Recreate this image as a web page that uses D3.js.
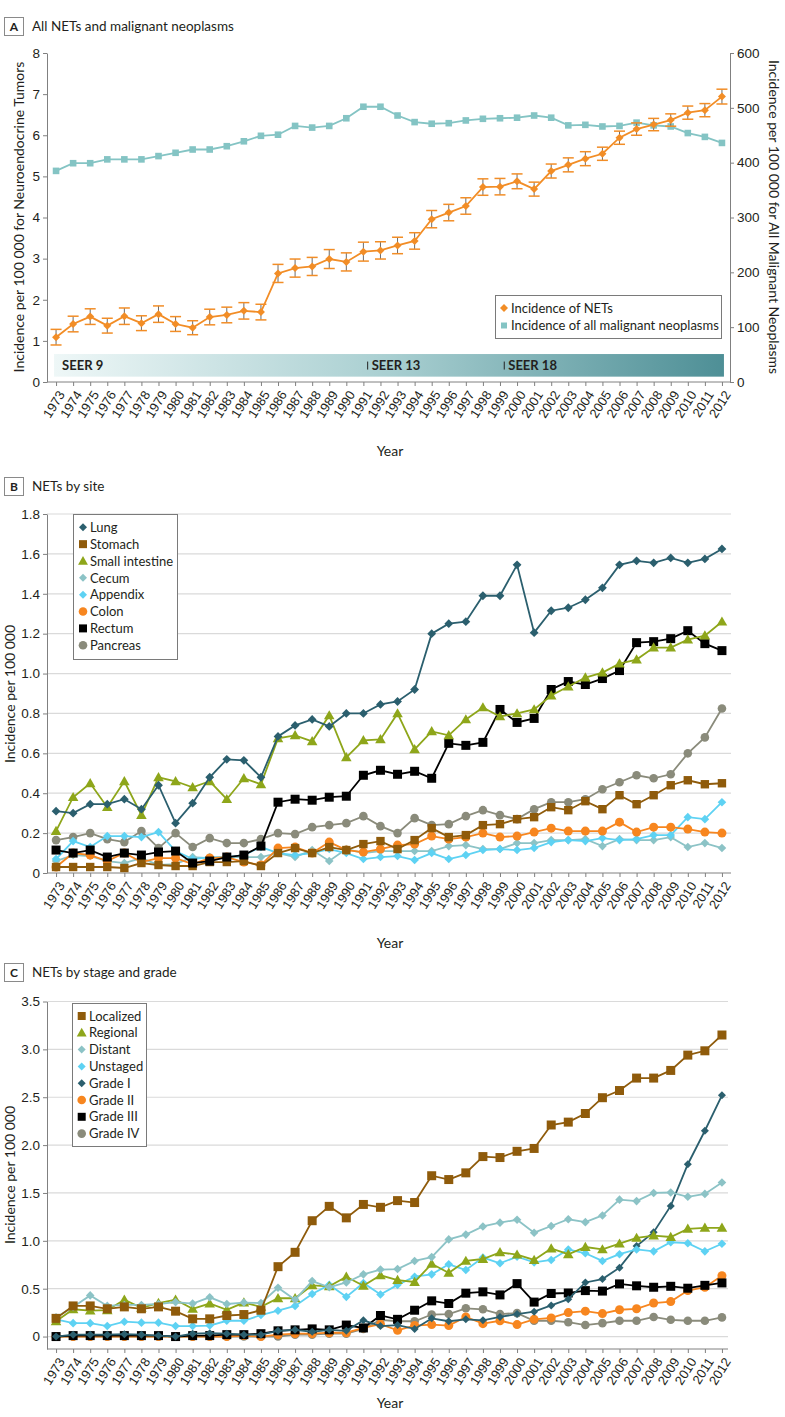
<!DOCTYPE html>
<html><head><meta charset="utf-8">
<script src="https://cdn.jsdelivr.net/npm/d3@7"></script>
<style>
body{margin:0;background:#fff;}
svg{display:block;font-family:Lato,"Noto Sans",sans-serif;}
</style>
</head><body>
<svg id="chart" width="785" height="1417"></svg>
<script>
// ---------------- DATA ----------------
const years = [1973,1974,1975,1976,1977,1978,1979,1980,1981,1982,1983,1984,1985,1986,1987,1988,1989,1990,1991,1992,
               1993,1994,1995,1996,1997,1998,1999,2000,2001,2002,2003,2004,2005,2006,2007,2008,2009,2010,2011,2012];

// Panel A
const netsIncidence = [1.09,1.41,1.59,1.37,1.60,1.43,1.65,1.41,1.32,1.58,1.63,1.73,1.70,2.64,2.77,2.81,2.99,2.92,3.17,3.20,
                       3.32,3.43,3.96,4.12,4.28,4.74,4.75,4.88,4.69,5.13,5.28,5.43,5.55,5.94,6.15,6.26,6.37,6.55,6.61,6.94];
const netsCIHalf = [0.19,0.19,0.19,0.18,0.20,0.18,0.20,0.18,0.17,0.19,0.19,0.20,0.19,0.22,0.22,0.22,0.23,0.22,0.23,0.21,
                    0.20,0.20,0.21,0.20,0.20,0.20,0.20,0.18,0.17,0.17,0.17,0.17,0.16,0.16,0.15,0.15,0.15,0.16,0.16,0.18];
const malignantIncidence = [385,399,399,406,406,406,412,418,424,424,430,439,449,451,467,464,467,481,502,502,
                            486,474,471,472,477,480,481,482,486,482,468,469,466,467,473,468,466,454,447,436];
const seerPeriods = ["SEER 9","SEER 13","SEER 18"];
const seerStartYears = [1973,1992,2000];
const leftTicksA = [0,1,2,3,4,5,6,7,8];
const rightTicksA = [0,100,200,300,400,500,600];

// Panel B
const siteNames = ["Lung","Stomach","Small intestine","Cecum","Appendix","Colon","Rectum","Pancreas"];
const lung = [0.31,0.30,0.345,0.345,0.37,0.32,0.44,0.25,0.35,0.48,0.57,0.565,0.48,0.685,0.74,0.77,0.735,0.80,0.80,0.845,
              0.86,0.92,1.20,1.25,1.26,1.39,1.39,1.545,1.205,1.315,1.33,1.37,1.43,1.545,1.565,1.555,1.58,1.555,1.575,1.625];
const stomach = [0.03,0.03,0.03,0.03,0.025,0.05,0.04,0.035,0.035,0.055,0.055,0.06,0.035,0.10,0.125,0.10,0.13,0.115,0.145,0.16,
                 0.12,0.165,0.225,0.18,0.19,0.24,0.245,0.27,0.28,0.33,0.315,0.36,0.32,0.39,0.345,0.39,0.44,0.465,0.445,0.45];
const smallIntestine = [0.21,0.38,0.45,0.33,0.46,0.29,0.48,0.46,0.43,0.46,0.37,0.475,0.445,0.675,0.69,0.66,0.79,0.58,0.665,0.67,
                        0.80,0.62,0.71,0.69,0.77,0.83,0.785,0.80,0.82,0.89,0.935,0.98,1.005,1.05,1.07,1.13,1.13,1.17,1.19,1.26];
const cecum = [0.06,0.09,0.085,0.06,0.05,0.075,0.04,0.045,0.08,0.075,0.08,0.08,0.08,0.10,0.08,0.115,0.06,0.12,0.10,0.11,
               0.11,0.11,0.11,0.135,0.14,0.12,0.12,0.15,0.15,0.165,0.165,0.17,0.135,0.17,0.165,0.165,0.18,0.13,0.15,0.125];
const appendix = [0.07,0.16,0.13,0.185,0.185,0.18,0.205,0.11,0.07,0.08,0.08,0.09,0.13,0.10,0.09,0.10,0.12,0.10,0.07,0.08,
                  0.085,0.065,0.10,0.07,0.09,0.115,0.12,0.115,0.125,0.155,0.165,0.16,0.175,0.165,0.17,0.19,0.19,0.28,0.27,0.355];
const colon = [0.03,0.10,0.09,0.06,0.10,0.055,0.075,0.075,0.045,0.075,0.08,0.055,0.04,0.125,0.13,0.10,0.155,0.115,0.105,0.12,
               0.14,0.145,0.185,0.17,0.18,0.20,0.18,0.185,0.205,0.225,0.21,0.21,0.21,0.255,0.205,0.23,0.23,0.22,0.205,0.20];
const rectum = [0.115,0.10,0.115,0.08,0.10,0.09,0.105,0.11,0.05,0.06,0.08,0.09,0.135,0.355,0.37,0.365,0.38,0.385,0.49,0.515,
                0.495,0.51,0.475,0.65,0.64,0.655,0.82,0.755,0.775,0.92,0.96,0.945,0.975,1.015,1.155,1.16,1.175,1.215,1.15,1.115];
const pancreas = [0.165,0.18,0.20,0.17,0.155,0.21,0.125,0.20,0.13,0.175,0.15,0.15,0.17,0.20,0.195,0.23,0.24,0.25,0.285,0.235,
                  0.20,0.275,0.24,0.245,0.285,0.315,0.29,0.27,0.32,0.355,0.355,0.37,0.42,0.455,0.49,0.475,0.495,0.60,0.68,0.825];
const ticksB = [0,0.2,0.4,0.6,0.8,1.0,1.2,1.4,1.6,1.8];

// Panel C
const stageGradeNames = ["Localized","Regional","Distant","Unstaged","Grade I","Grade II","Grade III","Grade IV"];
const localized = [0.19,0.32,0.32,0.29,0.31,0.29,0.31,0.265,0.185,0.185,0.22,0.23,0.275,0.73,0.88,1.21,1.36,1.24,1.38,1.35,
                   1.42,1.40,1.68,1.64,1.71,1.88,1.87,1.935,1.965,2.21,2.24,2.33,2.495,2.57,2.70,2.70,2.78,2.94,2.985,3.15];
const regional = [0.16,0.285,0.27,0.275,0.385,0.30,0.35,0.385,0.29,0.345,0.28,0.355,0.31,0.40,0.40,0.535,0.525,0.625,0.53,0.64,
                  0.59,0.57,0.76,0.665,0.79,0.81,0.88,0.855,0.80,0.92,0.86,0.935,0.91,0.97,1.03,1.055,1.04,1.125,1.135,1.135];
const distant = [0.20,0.31,0.43,0.32,0.33,0.33,0.34,0.36,0.345,0.41,0.34,0.355,0.35,0.51,0.385,0.58,0.515,0.565,0.65,0.70,
                 0.705,0.79,0.83,1.015,1.065,1.15,1.19,1.22,1.085,1.155,1.225,1.195,1.265,1.43,1.415,1.50,1.505,1.46,1.49,1.61];
const unstaged = [0.18,0.14,0.14,0.11,0.155,0.145,0.145,0.11,0.11,0.115,0.165,0.165,0.225,0.27,0.32,0.445,0.54,0.415,0.56,0.44,
                  0.54,0.625,0.65,0.755,0.695,0.825,0.765,0.835,0.775,0.80,0.91,0.87,0.79,0.86,0.91,0.89,0.985,0.975,0.89,0.97];
const gradeI = [0.0,0.02,0.02,0.02,0.025,0.02,0.01,0.0,0.03,0.035,0.03,0.02,0.02,0.06,0.07,0.05,0.07,0.06,0.17,0.11,
                0.12,0.08,0.19,0.16,0.18,0.17,0.205,0.235,0.26,0.325,0.39,0.565,0.60,0.72,0.945,1.09,1.365,1.80,2.15,2.52];
const gradeII = [0.0,0.0,0.0,0.0,0.0,0.0,0.0,0.0,0.0,0.0,0.0,0.01,0.0,0.02,0.03,0.03,0.04,0.04,0.09,0.13,
                 0.065,0.115,0.125,0.115,0.205,0.135,0.165,0.125,0.18,0.195,0.25,0.265,0.24,0.28,0.29,0.35,0.365,0.48,0.515,0.635];
const gradeIII = [0.0,0.01,0.01,0.01,0.01,0.01,0.01,0.0,0.01,0.01,0.02,0.02,0.03,0.06,0.07,0.08,0.07,0.12,0.09,0.22,
                  0.18,0.275,0.373,0.345,0.453,0.467,0.435,0.553,0.36,0.45,0.455,0.48,0.475,0.55,0.53,0.515,0.525,0.505,0.535,0.56];
const gradeIV = [0,0,0,0,0,0,0,0,0,0,0,0,0,0,0.02,0.02,0.03,0.03,0.08,0.175,
                 0.16,0.16,0.23,0.235,0.295,0.285,0.235,0.245,0.165,0.165,0.15,0.12,0.14,0.165,0.165,0.205,0.175,0.165,0.165,0.20];
const ticksC = [0,0.5,1.0,1.5,2.0,2.5,3.0,3.5];

// ---------------- STYLE ----------------
const AX = "#808080", TXT = "#231f20", GRID = "#dadada";
const C = {
  nets:"#f28d26", malig:"#84c4c4",
  lung:"#2b5f6e", stomach:"#8f5b0b", small:"#8ea61a", cecum:"#8cc3c6",
  appendix:"#5ed2f3", colon:"#f7861f", rectum:"#000000", pancreas:"#8a8b7b"
};

const svg = d3.select("#chart");

function shapePath(shape, s){
  if(shape==="diamond") return `M0,${-s}L${s},0L0,${s}L${-s},0Z`;
  if(shape==="square") return `M${-s},${-s}h${2*s}v${2*s}h${-2*s}Z`;
  if(shape==="triangle") return `M0,${-s*1.15}L${s*1.15},${s*0.85}L${-s*1.15},${s*0.85}Z`;
  return d3.arc()({innerRadius:0,outerRadius:s,startAngle:0,endAngle:2*Math.PI});
}

function makeX(){ return d3.scalePoint().domain(years).range([47,731]).padding(0.53); }

function xAxis(g, x, yPos, right){
  const a = g.append("g").attr("transform",`translate(0,${yPos})`)
    .call(d3.axisBottom(x).tickSize(4).tickSizeOuter(0));
  a.select(".domain").attr("stroke",AX).attr("d",`M47,0H${right}`);
  a.selectAll(".tick line").attr("stroke",AX);
  a.selectAll(".tick text").attr("y",0).attr("x",0).attr("dy","0.35em")
    .attr("text-anchor","end").attr("transform","translate(5,10) rotate(-58)")
    .attr("fill",TXT).attr("font-size",13).attr("font-family",null);
}

function yAxisLeft(g, y, ticks, fmt){
  const a = g.append("g").attr("transform","translate(47,0)")
    .call(d3.axisLeft(y).tickValues(ticks).tickFormat(fmt).tickSize(4).tickSizeOuter(0).tickPadding(3));
  a.select(".domain").attr("stroke",AX);
  a.selectAll(".tick line").attr("stroke",AX);
  a.selectAll(".tick text").attr("fill",TXT).attr("font-size",13.5).attr("font-family",null);
}

function panelTitle(letter, title, top){
  svg.append("rect").attr("x",4.5).attr("y",top+0.5).attr("width",19).attr("height",18)
    .attr("fill","#fff").attr("stroke","#8a8a8a");
  svg.append("text").attr("x",14).attr("y",top+14).attr("text-anchor","middle")
    .attr("font-size",12).attr("font-weight","bold").attr("fill",TXT).text(letter);
  svg.append("text").attr("x",32).attr("y",top+13.5).attr("font-size",13.5).attr("fill",TXT).text(title);
}

function yLabel(text, cx, cy, rot){
  svg.append("text").attr("transform",`translate(${cx},${cy}) rotate(${rot})`)
    .attr("text-anchor","middle").attr("dy","0.35em").attr("font-size",14).attr("fill",TXT).text(text);
}

function drawSeries(g, x, y, values, color, shape, s){
  const pts = years.map((yr,i)=>[x(yr), y(values[i])]);
  g.append("path").attr("d", d3.line()(pts)).attr("fill","none").attr("stroke",color).attr("stroke-width",1.8);
  g.selectAll(null).data(pts).enter().append("path")
    .attr("transform",d=>`translate(${d[0]},${d[1]})`).attr("d",shapePath(shape,s)).attr("fill",color);
}

function legend(entries, x0, y0, w, h, mx, tx, ys, step){
  svg.append("rect").attr("x",x0+0.5).attr("y",y0+0.5).attr("width",w).attr("height",h)
    .attr("fill","#fff").attr("stroke","#7a7a7a");
  entries.forEach((e,i)=>{
    const cy = ys + i*step;
    svg.append("path").attr("transform",`translate(${mx},${cy})`).attr("d",shapePath(e.shape,e.ls)).attr("fill",e.color);
    svg.append("text").attr("x",tx).attr("y",cy).attr("dy","0.36em").attr("font-size",13).attr("fill",TXT).text(e.name);
  });
}

// ---------------- PANEL A ----------------
(function(){
  panelTitle("A","All NETs and malignant neoplasms",17);
  const x = makeX();
  const yL = d3.scaleLinear().domain([0,8]).range([382,53]);
  const yR = d3.scaleLinear().domain([0,600]).range([382,53]);
  const g = svg.append("g");

  const defs = svg.append("defs");
  const grad = defs.append("linearGradient").attr("id","seerGrad");
  grad.append("stop").attr("offset","0%").attr("stop-color","#eef7f7");
  grad.append("stop").attr("offset","50%").attr("stop-color","#a9cfd1");
  grad.append("stop").attr("offset","100%").attr("stop-color","#4e8f96");
  const step = x.step();
  const bx0 = x(years[0]) - 2, bx1 = x(years[years.length-1]) + 2;
  g.append("rect").attr("x",bx0).attr("y",yL(0.68)).attr("width",bx1-bx0).attr("height",yL(0.13)-yL(0.68))
    .attr("fill","url(#seerGrad)");
  seerPeriods.forEach((lab,i)=>{
    const yMid = yL(0.40);
    let tx;
    if(i===0){ tx = bx0 + 8; }
    else {
      const mx = x(seerStartYears[i]) - 0.75*step;
      g.append("line").attr("x1",mx).attr("x2",mx).attr("y1",yMid-4).attr("y2",yMid+4).attr("stroke","#222").attr("stroke-width",1);
      tx = mx + 4;
    }
    g.append("text").attr("x",tx).attr("y",yMid).attr("dy","0.36em").attr("font-size",13)
      .attr("font-weight","bold").attr("fill","#231f20").text(lab);
  });

  xAxis(g, x, 382, 730);
  yAxisLeft(g, yL, leftTicksA, d3.format("d"));
  const ar = g.append("g").attr("transform","translate(730,0)")
    .call(d3.axisRight(yR).tickValues(rightTicksA).tickSize(4).tickSizeOuter(0).tickPadding(3));
  ar.select(".domain").attr("stroke",AX);
  ar.selectAll(".tick line").attr("stroke",AX);
  ar.selectAll(".tick text").attr("fill",TXT).attr("font-size",13.5).attr("font-family",null);

  drawSeries(g, x, yR, malignantIncidence, C.malig, "square", 3.3);
  const eb = g.append("g");
  years.forEach((yr,i)=>{
    const cx = x(yr), lo = yL(netsIncidence[i]-netsCIHalf[i]), hi = yL(netsIncidence[i]+netsCIHalf[i]);
    eb.append("line").attr("x1",cx).attr("x2",cx).attr("y1",lo).attr("y2",hi).attr("stroke","#6b6b6b").attr("stroke-width",1);
    [lo,hi].forEach(yy=>eb.append("line").attr("x1",cx-5.5).attr("x2",cx+5.5).attr("y1",yy).attr("y2",yy)
      .attr("stroke",C.nets).attr("stroke-width",1.5));
  });
  drawSeries(g, x, yL, netsIncidence, C.nets, "diamond", 4);

  legend([{name:"Incidence of NETs",color:C.nets,shape:"diamond",ls:4},
          {name:"Incidence of all malignant neoplasms",color:C.malig,shape:"square",ls:3}],
         495, 295, 226, 43, 504, 511, 308, 17.5);

  yLabel("Incidence per 100 000 for Neuroendocrine Tumors", 19, 217, -90);
  yLabel("Incidence per 100 000 for All Malignant Neoplasms", 774, 217, 90);
  svg.append("text").attr("x",390).attr("y",456).attr("text-anchor","middle").attr("font-size",14).attr("fill",TXT).text("Year");
})();

// ---------------- PANEL B ----------------
(function(){
  panelTitle("B","NETs by site",477);
  const x = makeX();
  const y = d3.scaleLinear().domain([0,1.8]).range([873,514]);
  const g = svg.append("g");
  g.selectAll(null).data(ticksB.slice(1)).enter().append("line")
    .attr("x1",47).attr("x2",731).attr("y1",d=>y(d)).attr("y2",d=>y(d)).attr("stroke",GRID).attr("stroke-width",1.2);
  xAxis(g, x, 873, 731);
  yAxisLeft(g, y, ticksB, d=>d===0?"0":d3.format(".1f")(d));

  const series = [
    {v:pancreas, c:C.pancreas, s:"circle", z:4.3},
    {v:cecum, c:C.cecum, s:"diamond", z:4.3},
    {v:appendix, c:C.appendix, s:"diamond", z:4.3},
    {v:colon, c:C.colon, s:"circle", z:4.5},
    {v:stomach, c:C.stomach, s:"square", z:4.2},
    {v:rectum, c:C.rectum, s:"square", z:4.5},
    {v:smallIntestine, c:C.small, s:"triangle", z:4.6},
    {v:lung, c:C.lung, s:"diamond", z:4.4}
  ];
  series.forEach(s=>drawSeries(g, x, y, s.v, s.c, s.s, s.z));

  const leg = [
    {c:C.lung,s:"diamond",z:4},{c:C.stomach,s:"square",z:4},{c:C.small,s:"triangle",z:4.3},{c:C.cecum,s:"diamond",z:4},
    {c:C.appendix,s:"diamond",z:4},{c:C.colon,s:"circle",z:4.3},{c:C.rectum,s:"square",z:4},{c:C.pancreas,s:"circle",z:4.3}
  ];
  legend(siteNames.map((n,i)=>({name:n,color:leg[i].c,shape:leg[i].s,ls:leg[i].z})),
         73, 514, 104, 145, 83, 90, 527.3, 16.85);

  yLabel("Incidence per 100 000", 10, 694, -90);
  svg.append("text").attr("x",390).attr("y",948).attr("text-anchor","middle").attr("font-size",14).attr("fill",TXT).text("Year");
})();

// ---------------- PANEL C ----------------
(function(){
  panelTitle("C","NETs by stage and grade",963);
  const x = makeX();
  const y = d3.scaleLinear().domain([-0.13,3.5]).range([1349,1001.5]);
  const g = svg.append("g");
  g.selectAll(null).data(ticksC).enter().append("line")
    .attr("x1",47).attr("x2",728).attr("y1",d=>y(d)).attr("y2",d=>y(d)).attr("stroke",GRID).attr("stroke-width",1.2);
  xAxis(g, x, 1349, 728);
  yAxisLeft(g, y, ticksC, d=>d===0?"0":d3.format(".1f")(d));

  const series = [
    {v:gradeIV, c:C.pancreas, s:"circle", z:4.3},
    {v:gradeII, c:C.colon, s:"circle", z:4.5},
    {v:gradeIII, c:C.rectum, s:"square", z:4.5},
    {v:gradeI, c:C.lung, s:"diamond", z:4},
    {v:unstaged, c:C.appendix, s:"diamond", z:4.3},
    {v:regional, c:C.small, s:"triangle", z:4.6},
    {v:distant, c:C.cecum, s:"diamond", z:4.3},
    {v:localized, c:C.stomach, s:"square", z:4.5}
  ];
  series.forEach(s=>drawSeries(g, x, y, s.v, s.c, s.s, s.z));

  const leg = [
    {c:C.stomach,s:"square",z:4},{c:C.small,s:"triangle",z:4.3},{c:C.cecum,s:"diamond",z:4},{c:C.appendix,s:"diamond",z:4},
    {c:C.lung,s:"diamond",z:4},{c:C.colon,s:"circle",z:4.3},{c:C.rectum,s:"square",z:4},{c:C.pancreas,s:"circle",z:4.3}
  ];
  legend(stageGradeNames.map((n,i)=>({name:n,color:leg[i].c,shape:leg[i].s,ls:leg[i].z})),
         72, 1003, 74, 143, 81.7, 89, 1016, 16.8);

  yLabel("Incidence per 100 000", 10, 1175, -90);
  svg.append("text").attr("x",390).attr("y",1408).attr("text-anchor","middle").attr("font-size",14).attr("fill",TXT).text("Year");
})();
</script>
</body></html>
